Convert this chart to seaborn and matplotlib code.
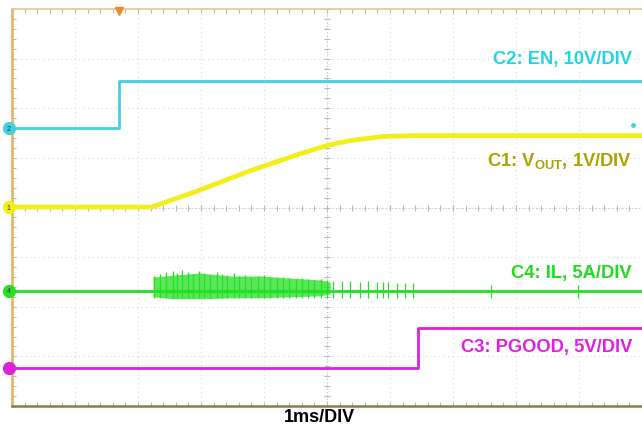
import numpy as np
import pandas as pd
import matplotlib
matplotlib.use("Agg")
import matplotlib.pyplot as plt
import seaborn as sns

# scope traces, x in divisions (1ms/DIV), y in divisions
en_t = [0.0, 1.70, 10.0]
en_v = [5.60, 6.55, 6.55]

vout_t = [0.0, 2.22, 2.98, 3.78, 4.57, 5.0, 5.37, 5.89, 6.4, 10.0]
vout_v = [4.01, 4.01, 4.35, 4.74, 5.08, 5.25, 5.35, 5.43, 5.45, 5.45]

pg_t = [0.0, 6.44, 10.0]
pg_v = [0.77, 1.57, 1.57]

il_base = 2.32
il_env_t = [2.24, 2.59, 2.98, 3.46, 3.94, 4.41, 4.89, 5.05]
il_env_hi = [2.60, 2.64, 2.68, 2.62, 2.62, 2.58, 2.54, 2.50]
il_env_lo = [2.20, 2.16, 2.16, 2.18, 2.18, 2.20, 2.22, 2.26]
il_spike_t = [2.26, 2.35, 2.45, 2.55, 2.62, 2.70, 2.80, 2.88, 2.97, 3.05, 3.15,
              3.25, 3.33, 3.42, 3.52, 3.60, 3.70, 3.80, 3.90, 4.00, 4.10, 4.20,
              4.30, 4.40, 4.50, 4.60, 4.70, 4.80, 4.90, 5.00,
              5.10, 5.24, 5.37, 5.52, 5.65, 5.79, 5.89, 5.97, 6.11, 6.24, 6.37,
              7.60, 8.98]
il_spike_v = [2.62, 2.66, 2.70, 2.72, 2.68, 2.74, 2.70, 2.66, 2.72, 2.68, 2.64,
              2.70, 2.66, 2.64, 2.68, 2.62, 2.64, 2.60, 2.62, 2.64, 2.60, 2.58,
              2.60, 2.58, 2.56, 2.58, 2.56, 2.54, 2.56, 2.54,
              2.52, 2.52, 2.52, 2.50, 2.52, 2.50, 2.50, 2.50, 2.48, 2.48, 2.48,
              2.44, 2.44]

labels = ["C2: EN, 10V/DIV", r"C1: V$_{\mathbf{OUT}}$, 1V/DIV",
          "C4: IL, 5A/DIV", "C3: PGOOD, 5V/DIV"]
label_y = [7.0, 4.96, 2.70, 1.19]
label_colors = ["#22d3e6", "#a8a400", "#1edc1e", "#e21ee2"]

marker_names = ["2", "1", "4", ""]
marker_y = [5.60, 4.01, 2.32, 0.77]
trace_colors = ["#3fd2e2", "#f2ee1a", "#22e022", "#d823d8"]

sns.set_style("white")
plt.rcParams['font.family'] = ['Liberation Sans', 'DejaVu Sans']
plt.rcParams['mathtext.fontset'] = 'custom'
plt.rcParams['mathtext.rm'] = 'Liberation Sans'
plt.rcParams['mathtext.bf'] = 'Liberation Sans:bold'

fig = plt.figure(figsize=(6.42, 4.27), dpi=100)
ax = fig.add_axes([12 / 642, 20 / 427, 630 / 642, 397 / 427])
ax.set_xlim(0, 10)
ax.set_ylim(0, 8)

# graticule
for gx in range(1, 10):
    ax.axvline(gx, color="#d9d9d9", lw=0.8, ls=(0, (1, 3)), zorder=0)
for gy in range(1, 8):
    ax.axhline(gy, color="#d9d9d9", lw=0.8, ls=(0, (1, 3)), zorder=0)
ax.axvline(5, color="#c8c8c8", lw=0.8, ls=(0, (1, 2)), zorder=0)
ax.axhline(4, color="#c8c8c8", lw=0.8, ls=(0, (1, 2)), zorder=0)
minor_x = np.arange(0, 10.01, 0.2)
minor_y = np.arange(0, 8.01, 0.2)
ax.plot(minor_x, np.full_like(minor_x, 4), ls="none", marker="|", ms=4,
        color="#b8b8b8", mew=0.8, zorder=0)
ax.plot(np.full_like(minor_y, 5), minor_y, ls="none", marker="_", ms=4,
        color="#b8b8b8", mew=0.8, zorder=0)

ax.set_xticks(minor_x, minor=True)
ax.set_yticks(minor_y, minor=True)
ax.set_xticks([])
ax.set_yticks([])
ax.tick_params(which="minor", direction="in", length=3, width=0.8,
               color="#b8b8b8", top=True, bottom=True, left=True, right=False,
               labelbottom=False, labelleft=False)

ax.spines["left"].set_color("#e9b46a")
ax.spines["left"].set_linewidth(2.0)
ax.spines["top"].set_color("#e9c48a")
ax.spines["top"].set_linewidth(1.2)
ax.spines["bottom"].set_color("#8a7a50")
ax.spines["bottom"].set_linewidth(1.8)
ax.spines["right"].set_visible(False)

# traces
en = pd.DataFrame({"t": en_t, "v": en_v})
vout = pd.DataFrame({"t": vout_t, "v": vout_v})
pg = pd.DataFrame({"t": pg_t, "v": pg_v})

sns.lineplot(data=en, x="t", y="v", color=trace_colors[0], lw=2.0,
             drawstyle="steps-post", estimator=None, ax=ax, zorder=3)
sns.lineplot(data=vout, x="t", y="v", color=trace_colors[1], lw=3.4,
             estimator=None, ax=ax, zorder=3)
sns.lineplot(data=pg, x="t", y="v", color=trace_colors[3], lw=2.0,
             drawstyle="steps-post", estimator=None, ax=ax, zorder=3)

ax.axhline(il_base, color=trace_colors[2], lw=2.0, zorder=3)
ax.fill_between(il_env_t, il_env_lo, il_env_hi, color=trace_colors[2],
                alpha=0.75, lw=0, zorder=3)
ax.vlines(il_spike_t, 2.18, il_spike_v, color=trace_colors[2], lw=0.9, zorder=3)

ax.plot([9.86], [5.67], "o", color=trace_colors[0], ms=2.5, zorder=3)

# channel markers on left edge
for name, my, c in zip(marker_names, marker_y, trace_colors):
    ax.plot([-0.05], [my], "o", ms=8.5, color=c, clip_on=False, zorder=5)
    if name:
        ax.text(-0.05, my, name, fontsize=5, color="#333333", ha="center",
                va="center", clip_on=False, zorder=6)

# trigger marker
ax.plot([1.70], [7.95], marker="v", ms=6, color="#f08a24", clip_on=False, zorder=5)

for lab, ly, c in zip(labels, label_y, label_colors):
    ax.text(9.84, ly, lab, color=c, fontsize=13.2, fontweight="bold",
            ha="right", va="center", zorder=6)

ax.set_xlabel("")
ax.set_ylabel("")
fig.text(319 / 642, 1 - 418 / 427, "1ms/DIV", fontsize=13, fontweight="bold",
         ha="center", va="center", color="black")

fig.savefig("out.png", dpi=100)
